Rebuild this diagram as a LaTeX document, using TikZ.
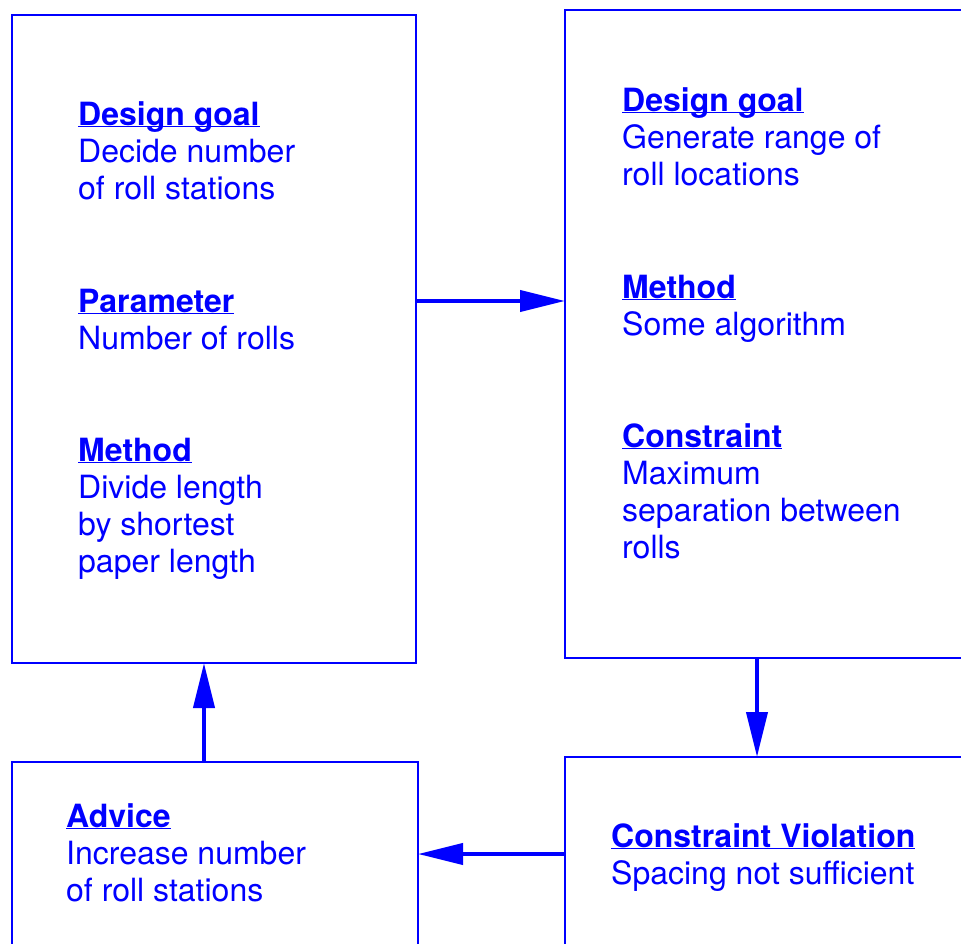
\documentclass[tikz,border=0pt]{standalone}
\usepackage{fontspec}
\setmainfont{TeX Gyre Heros}
\usetikzlibrary{arrows.meta}
\definecolor{fg}{RGB}{0,0,255}
\newcommand{\hd}[1]{\setbox0\hbox{\bfseries #1}\rlap{\rule[-1.5pt]{\wd0}{1pt}}\box0}
\newcommand{\blk}[1]{\begin{tabular}[t]{@{}l@{}}#1\end{tabular}}
\begin{document}
\begin{tikzpicture}[x=1pt,y=-1pt,
 box/.style={draw=fg,line width=2pt,inner sep=0pt,outer sep=0pt,anchor=north west},
 txt/.style={text=fg,anchor=base west,inner sep=0pt,font=\fontsize{32}{37}\selectfont},
 arr/.style={draw=fg,line width=4pt,-{Triangle[length=45pt,width=21pt]}}]
\useasboundingbox (0,0) rectangle (961,943);
\clip (0,0) rectangle (961,943);
\node[box,minimum width=404pt,minimum height=648pt] (A) at (12,15) {};
\node[box,minimum width=440pt,minimum height=648pt] (B) at (565,10) {};
\node[box,minimum width=406pt,minimum height=250pt] (C) at (12,762) {};
\node[box,minimum width=440pt,minimum height=250pt] (D) at (565,757) {};
\draw[arr] (A.east |- 0,301) -- (B.west |- 0,301);
\draw[arr] (B.south -| 757,0) -- (D.north -| 757,0);
\draw[arr] (D.west |- 0,854) -- (C.east |- 0,854);
\draw[arr] (C.north -| 204,0) -- (A.south -| 204,0);
\node[txt] (a1) at (78,125) {\blk{\hd{Design goal}\\Decide number\\of roll stations}};
\node[txt] (a2) at (78,312) {\blk{\hd{Parameter}\\Number of rolls}};
\node[txt] (a3) at (78,461) {\blk{\hd{Method}\\Divide length\\by shortest\\paper length}};
\node[txt] (b1) at (622,111) {\blk{\hd{Design goal}\\Generate range of\\roll locations}};
\node[txt] (b2) at (622,298) {\blk{\hd{Method}\\Some algorithm}};
\node[txt] (b3) at (622,447) {\blk{\hd{Constraint}\\Maximum\\separation between\\rolls}};
\node[txt] (c1) at (66,827) {\blk{\hd{Advice}\\Increase number\\of roll stations}};
\node[txt] (d1) at (611,847) {\blk{\hd{Constraint Violation}\\Spacing not sufficient}};
\end{tikzpicture}
\end{document}
